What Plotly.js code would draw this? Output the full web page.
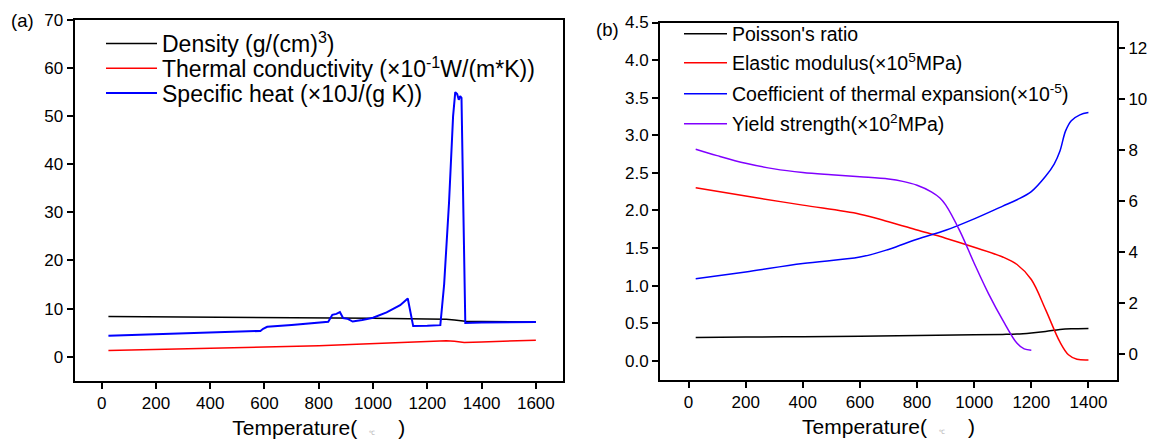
<!DOCTYPE html>
<html>
<head>
<meta charset="utf-8">
<script src="https://cdn.plot.ly/plotly-3.0.1.min.js"></script>
<style>html,body{margin:0;padding:0;background:#fff}#chart{width:1152px;height:446px}</style>
</head>
<body>
<div id="chart"></div>
<script>
// ---------- Panel (a) ----------
const densityT = [25, 200, 400, 600, 800, 1000, 1200, 1270, 1300, 1340, 1400, 1500, 1600];
const densityV = [8.35, 8.3, 8.25, 8.2, 8.1, 8.0, 7.85, 7.8, 7.6, 7.35, 7.3, 7.25, 7.2];

const condT = [25, 200, 400, 600, 800, 940, 1050, 1140, 1200, 1270, 1300, 1336, 1400, 1500, 1600];
const condV = [1.26, 1.45, 1.7, 1.96, 2.25, 2.6, 2.8, 3.08, 3.2, 3.3, 3.2, 2.95, 3.05, 3.25, 3.43];

const heatT = [25, 300, 585, 595, 610, 700, 835, 850, 865, 878, 890, 905, 925, 960, 1000, 1050, 1100, 1128, 1148, 1200, 1248, 1262, 1280, 1295, 1303, 1310, 1316, 1321, 1326, 1333, 1340, 1400, 1500, 1600];
const heatV = [4.34, 4.85, 5.35, 5.8, 6.2, 6.6, 7.27, 8.7, 8.9, 9.25, 8.0, 7.9, 7.3, 7.6, 8.1, 9.2, 10.7, 12.1, 6.35, 6.4, 6.55, 15, 32, 50, 55.0, 54.6, 53.4, 54.2, 53.8, 30, 7.0, 7.1, 7.15, 7.2];

// ---------- Panel (b) ----------
const poissonT = [25, 200, 400, 600, 800, 1000, 1100, 1150, 1200, 1250, 1300, 1340, 1400];
const poissonV = [0.31, 0.315, 0.32, 0.325, 0.335, 0.345, 0.35, 0.355, 0.37, 0.39, 0.415, 0.425, 0.43];

const elasticT = [25, 200, 400, 600, 700, 800, 900, 1000, 1100, 1150, 1200, 1250, 1300, 1330, 1360, 1400];
const elasticV = [2.30, 2.19, 2.07, 1.95, 1.85, 1.74, 1.63, 1.51, 1.38, 1.28, 1.08, 0.68, 0.25, 0.08, 0.02, 0.01];

const cteT = [25, 200, 400, 600, 700, 800, 900, 1000, 1100, 1150, 1200, 1250, 1280, 1300, 1320, 1340, 1370, 1400];
const cteV = [2.95, 3.22, 3.55, 3.80, 4.1, 4.5, 4.85, 5.3, 5.8, 6.05, 6.37, 6.97, 7.45, 7.95, 8.75, 9.15, 9.38, 9.47];

const yieldT = [25, 100, 200, 300, 400, 500, 600, 700, 750, 800, 850, 880, 900, 950, 1000, 1050, 1100, 1150, 1175, 1200];
const yieldV = [8.03, 7.78, 7.48, 7.26, 7.12, 7.03, 6.95, 6.86, 6.77, 6.62, 6.36, 6.12, 5.85, 4.82, 3.56, 2.37, 1.33, 0.42, 0.2, 0.15];

const ticksA_x = [0, 200, 400, 600, 800, 1000, 1200, 1400, 1600];
const ticksA_y = [0, 10, 20, 30, 40, 50, 60, 70];
const ticksB_x = [0, 200, 400, 600, 800, 1000, 1200, 1400];
const ticksB_y = [0.0, 0.5, 1.0, 1.5, 2.0, 2.5, 3.0, 3.5, 4.0, 4.5];
const ticksB_y2 = [0, 2, 4, 6, 8, 10, 12];

const namesA = ["Density (g/(cm)<sup>3</sup>)", "Thermal conductivity (×10<sup>-1</sup>W/(m*K))", "Specific heat (×10J/(g K))"];
const namesB = ["Poisson's ratio", "Elastic modulus(×10<sup>5</sup>MPa)", "Coefficient of thermal expansion(×10<sup>-5</sup>)", "Yield strength(×10<sup>2</sup>MPa)"];

const W = 1152, H = 446;
const px = p => p / W;
const py = p => 1 - p / H;
const FONT = "Liberation Sans, Arial, sans-serif";

const traces = [
  {x: densityT, y: densityV, name: namesA[0], mode: 'lines', line: {color: '#000000', width: 1.5}, xaxis: 'x', yaxis: 'y', legend: 'legend'},
  {x: condT, y: condV, name: namesA[1], mode: 'lines', line: {color: '#ff0000', width: 1.5}, xaxis: 'x', yaxis: 'y', legend: 'legend2'},
  {x: heatT, y: heatV, name: namesA[2], mode: 'lines', line: {color: '#0000ff', width: 2}, xaxis: 'x', yaxis: 'y', legend: 'legend3'},
  {x: poissonT, y: poissonV, name: namesB[0], mode: 'lines', line: {color: '#000000', width: 1.5, shape: 'spline'}, xaxis: 'x2', yaxis: 'y3', legend: 'legend4'},
  {x: elasticT, y: elasticV, name: namesB[1], mode: 'lines', line: {color: '#ff0000', width: 1.5, shape: 'spline'}, xaxis: 'x2', yaxis: 'y3', legend: 'legend5'},
  {x: cteT, y: cteV, name: namesB[2], mode: 'lines', line: {color: '#0000ff', width: 1.5, shape: 'spline'}, xaxis: 'x2', yaxis: 'y4', legend: 'legend6'},
  {x: yieldT, y: yieldV, name: namesB[3], mode: 'lines', line: {color: '#8000ff', width: 1.5, shape: 'spline'}, xaxis: 'x2', yaxis: 'y4', legend: 'legend7'}
];

const axCommon = {
  showline: true, linewidth: 2, linecolor: '#000', ticks: 'outside', ticklen: 6, tickwidth: 2, tickcolor: '#000',
  showgrid: false, zeroline: false, tickfont: {family: FONT, size: 17, color: '#000'}
};
const NB = '\u00a0';
const xTitle = {text: "Temperature(" + NB + NB + "<span style='font-size:6px;color:#aaa'>℃</span>" + NB + NB + NB + NB + ")", font: {family: FONT, size: 21, color: '#000'}, standoff: 8};

function mkLegend(xPx, yPx, size, itemw) {
  return {x: px(xPx), y: py(yPx), xanchor: 'left', yanchor: 'middle', bgcolor: 'rgba(0,0,0,0)', borderwidth: 0,
          font: {family: FONT, size: size, color: '#000'}, itemwidth: itemw, itemclick: false};
}

const layout = {
  width: W, height: H,
  margin: {l: 0, r: 0, t: 0, b: 0},
  paper_bgcolor: '#fff', plot_bgcolor: '#fff',
  font: {family: FONT, color: '#000'},
  showlegend: true,
  xaxis: Object.assign({}, axCommon, {domain: [px(74.5), px(563)], range: [-100, 1700], tickvals: ticksA_x, mirror: true, anchor: 'y', title: xTitle}),
  yaxis: Object.assign({}, axCommon, {domain: [py(380.7), py(20)], range: [-5, 70], tickvals: ticksA_y, mirror: true, anchor: 'x'}),
  xaxis2: Object.assign({}, axCommon, {domain: [px(660), px(1117)], range: [-100, 1500], tickvals: ticksB_x, mirror: true, anchor: 'y3', title: xTitle}),
  yaxis3: Object.assign({}, axCommon, {domain: [py(379.5), py(22.5)], range: [-0.25, 4.5], tickvals: ticksB_y, tickformat: '.1f', anchor: 'x2'}),
  yaxis4: Object.assign({}, axCommon, {domain: [py(379.5), py(22.5)], range: [-1, 13], tickvals: ticksB_y2, overlaying: 'y3', side: 'right', anchor: 'x2'}),
  legend:  mkLegend(101, 43.5, 23, 51),
  legend2: mkLegend(101, 68.4, 23, 51),
  legend3: mkLegend(101, 93, 23, 51),
  legend4: mkLegend(679, 34, 19.5, 43),
  legend5: mkLegend(679, 63, 19.5, 43),
  legend6: mkLegend(679, 94, 19.5, 43),
  legend7: mkLegend(679, 124, 19.5, 43),
  annotations: [
    {text: '(a)', xref: 'paper', yref: 'paper', x: px(9), y: py(20), xanchor: 'left', yanchor: 'middle', showarrow: false, font: {family: FONT, size: 18.5, color: '#000'}},
    {text: '(b)', xref: 'paper', yref: 'paper', x: px(594), y: py(30), xanchor: 'left', yanchor: 'middle', showarrow: false, font: {family: FONT, size: 18.5, color: '#000'}}
  ]
};

Plotly.newPlot('chart', traces, layout, {displayModeBar: false, staticPlot: true});
</script>
</body>
</html>
